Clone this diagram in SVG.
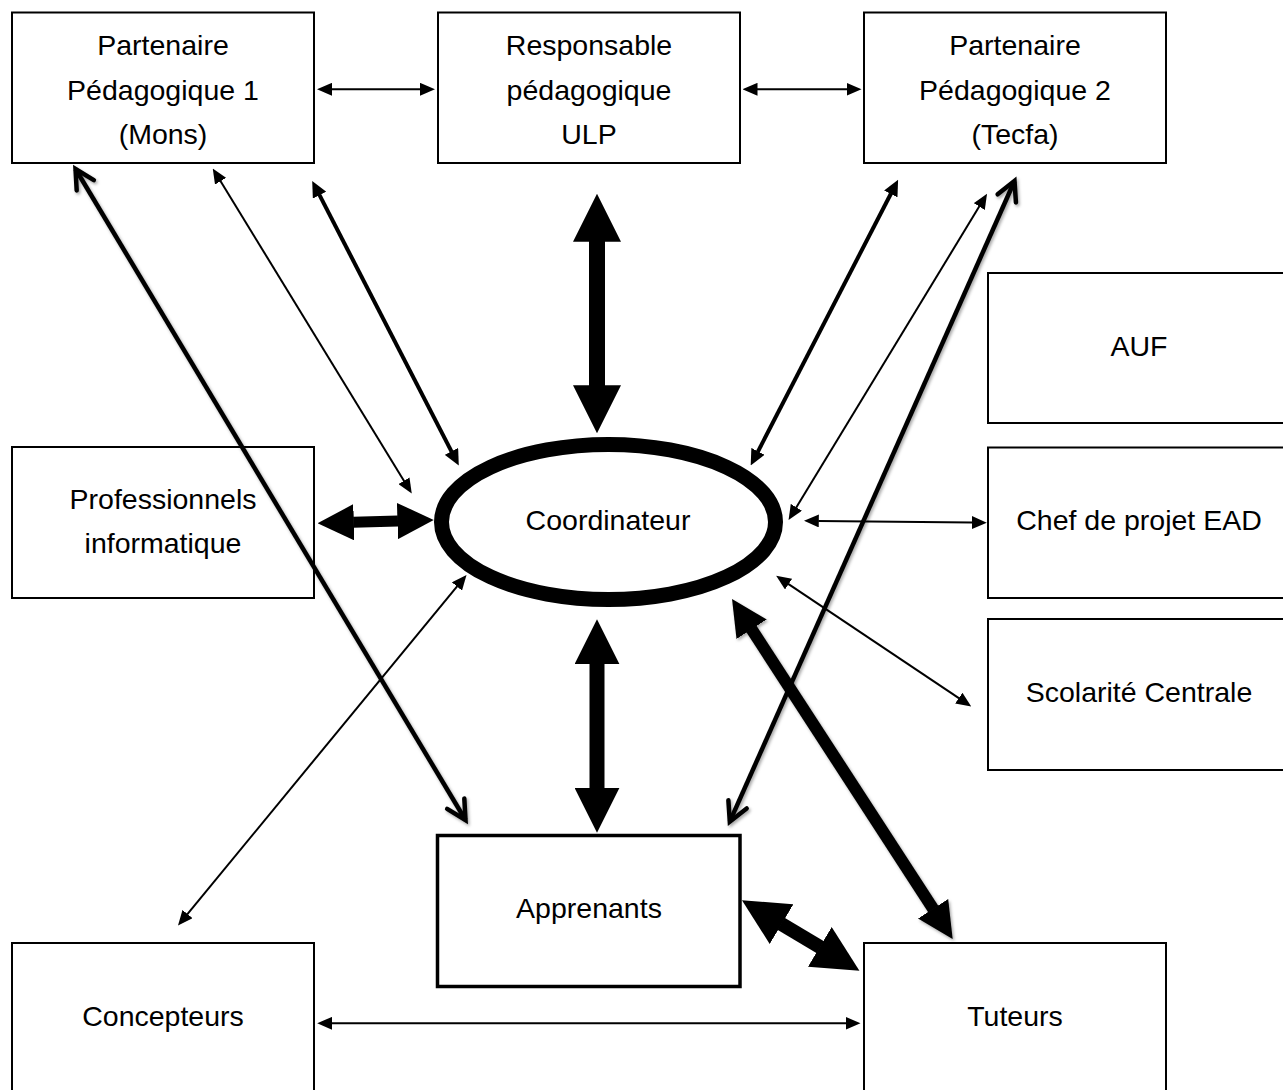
<svg xmlns="http://www.w3.org/2000/svg" width="1283" height="1090" viewBox="0 0 1283 1090">
  <style>
    .box { fill: #ffffff; stroke: #000000; stroke-width: 2; }
    .boxb { fill: #ffffff; stroke: #000000; stroke-width: 3.5; }
    .lbl { font-family: "Liberation Sans", Arial, sans-serif; font-size: 28.5px; fill: #000000; text-anchor: middle; }
    .thin { stroke: #000000; stroke-width: 2; fill: none; marker-start: url(#mThin); marker-end: url(#mThin); }
    .med { stroke: #000000; stroke-width: 4; fill: none; marker-start: url(#mMed); marker-end: url(#mMed); }
    .chev { stroke: #000000; stroke-width: 4.5; fill: none; marker-start: url(#mChev); marker-end: url(#mChev); filter: url(#shadow); }
    .blkA { stroke: #000000; fill: none; marker-start: url(#mBlkA); marker-end: url(#mBlkA); }
    .blkB { stroke: #000000; fill: none; marker-start: url(#mBlkB); marker-end: url(#mBlkB); }
  </style>
  <defs>
    <filter id="shadow" x="-20%" y="-20%" width="140%" height="140%">
      <feDropShadow dx="1.5" dy="2" stdDeviation="1.5" flood-color="#000000" flood-opacity="0.35"/>
    </filter>
    <marker id="mThin" markerUnits="userSpaceOnUse" viewBox="0 0 15 13" markerWidth="15" markerHeight="13" refX="0.5" refY="6.5" orient="auto-start-reverse">
      <path d="M0,0 L15,6.5 L0,13 z" fill="#000000"/>
    </marker>
    <marker id="mMed" markerUnits="userSpaceOnUse" viewBox="0 0 16 15" markerWidth="16" markerHeight="15" refX="0.5" refY="7.5" orient="auto-start-reverse">
      <path d="M0,0 L16,7.5 L0,15 z" fill="#000000"/>
    </marker>
    <marker id="mChev" markerUnits="userSpaceOnUse" viewBox="-26 -15 30 30" markerWidth="30" markerHeight="30" refX="0" refY="0" orient="auto-start-reverse" overflow="visible">
      <path d="M-19,-10 L0,0 L-19,10" fill="none" stroke="#000000" stroke-width="4.5" stroke-linejoin="miter" stroke-linecap="round"/>
    </marker>
    <marker id="mBlkA" markerUnits="strokeWidth" viewBox="0 0 3 3" markerWidth="3" markerHeight="3" refX="0.05" refY="1.5" orient="auto-start-reverse">
      <path d="M0,0 L3,1.5 L0,3 z" fill="#000000"/>
    </marker>
    <marker id="mBlkB" markerUnits="strokeWidth" viewBox="0 0 3.3 3.3" markerWidth="3.3" markerHeight="3.3" refX="0.05" refY="1.65" orient="auto-start-reverse">
      <path d="M0,0 L3.3,1.65 L0,3.3 z" fill="#000000"/>
    </marker>
  </defs>

  <g id="node-partenaire1">
    <rect class="box" x="12" y="12.5" width="302" height="150.5"/>
    <text class="lbl" x="163" y="55">Partenaire</text>
    <text class="lbl" x="163" y="99.5">Pédagogique 1</text>
    <text class="lbl" x="163" y="144">(Mons)</text>
  </g>
  <g id="node-responsable">
    <rect class="box" x="438" y="12.5" width="302" height="150.5"/>
    <text class="lbl" x="589" y="55">Responsable</text>
    <text class="lbl" x="589" y="99.5">pédagogique</text>
    <text class="lbl" x="589" y="144">ULP</text>
  </g>
  <g id="node-partenaire2">
    <rect class="box" x="864" y="12.5" width="302" height="150.5"/>
    <text class="lbl" x="1015" y="55">Partenaire</text>
    <text class="lbl" x="1015" y="99.5">Pédagogique 2</text>
    <text class="lbl" x="1015" y="144">(Tecfa)</text>
  </g>
  <g id="node-auf">
    <rect class="box" x="988" y="273" width="310" height="150"/>
    <text class="lbl" x="1139" y="356">AUF</text>
  </g>
  <g id="node-professionnels">
    <rect class="box" x="12" y="447" width="302" height="151"/>
    <text class="lbl" x="163" y="509">Professionnels</text>
    <text class="lbl" x="163" y="553">informatique</text>
  </g>
  <g id="node-coordinateur">
    <ellipse cx="608.5" cy="522" rx="167" ry="77.5" fill="#ffffff" stroke="#000000" stroke-width="15"/>
    <text class="lbl" x="608" y="530">Coordinateur</text>
  </g>
  <g id="node-chef">
    <rect class="box" x="988" y="447.5" width="310" height="150.5"/>
    <text class="lbl" x="1139" y="530">Chef de projet EAD</text>
  </g>
  <g id="node-scolarite">
    <rect class="box" x="988" y="619" width="310" height="151"/>
    <text class="lbl" x="1139" y="702">Scolarité Centrale</text>
  </g>
  <g id="node-apprenants">
    <rect class="boxb" x="437.5" y="835.5" width="302.5" height="151"/>
    <text class="lbl" x="589" y="918">Apprenants</text>
  </g>
  <g id="node-concepteurs">
    <rect class="box" x="12" y="943" width="302" height="160"/>
    <text class="lbl" x="163" y="1026">Concepteurs</text>
  </g>
  <g id="node-tuteurs">
    <rect class="box" x="864" y="943" width="302" height="160"/>
    <text class="lbl" x="1015" y="1026">Tuteurs</text>
  </g>

  <g id="connectors">
    <line class="thin" x1="331.5" y1="89.3" x2="420.5" y2="89.3"/>
    <line class="thin" x1="757" y1="89.3" x2="847" y2="89.3"/>
    <line class="thin" x1="220.3" y1="180.8" x2="404.2" y2="481.2"/>
    <line class="med" x1="319.3" y1="194.7" x2="451.7" y2="451.8"/>
    <line class="chev" x1="75.5" y1="169" x2="465.5" y2="820"/>
    <line class="blkA" stroke-width="16" x1="597" y1="241" x2="597" y2="386"/>
    <line class="med" x1="891" y1="193.5" x2="757.8" y2="451.8"/>
    <line class="thin" x1="979.5" y1="206.1" x2="796.1" y2="507.7"/>
    <line class="chev" x1="1014.5" y1="181" x2="729.8" y2="821.7"/>
    <line class="blkB" stroke-width="11" x1="353.3" y1="522.3" x2="398" y2="521"/>
    <line class="thin" x1="818.3" y1="520.9" x2="972.3" y2="522.5"/>
    <line class="thin" x1="187.2" y1="914.4" x2="457.3" y2="586.1"/>
    <line class="thin" x1="788.2" y1="583.8" x2="959.2" y2="698.4"/>
    <line class="blkA" stroke-width="15" x1="597" y1="663.5" x2="597" y2="788.5"/>
    <g filter="url(#shadow)">
      <line class="blkA" stroke-width="12" x1="751.3" y1="628.7" x2="933.4" y2="909.3"/>
    </g>
    <line class="blkB" stroke-width="14" x1="781" y1="923.7" x2="820.4" y2="947.3"/>
    <line class="thin" x1="331.7" y1="1023.3" x2="846" y2="1023.3"/>
  </g>
</svg>
